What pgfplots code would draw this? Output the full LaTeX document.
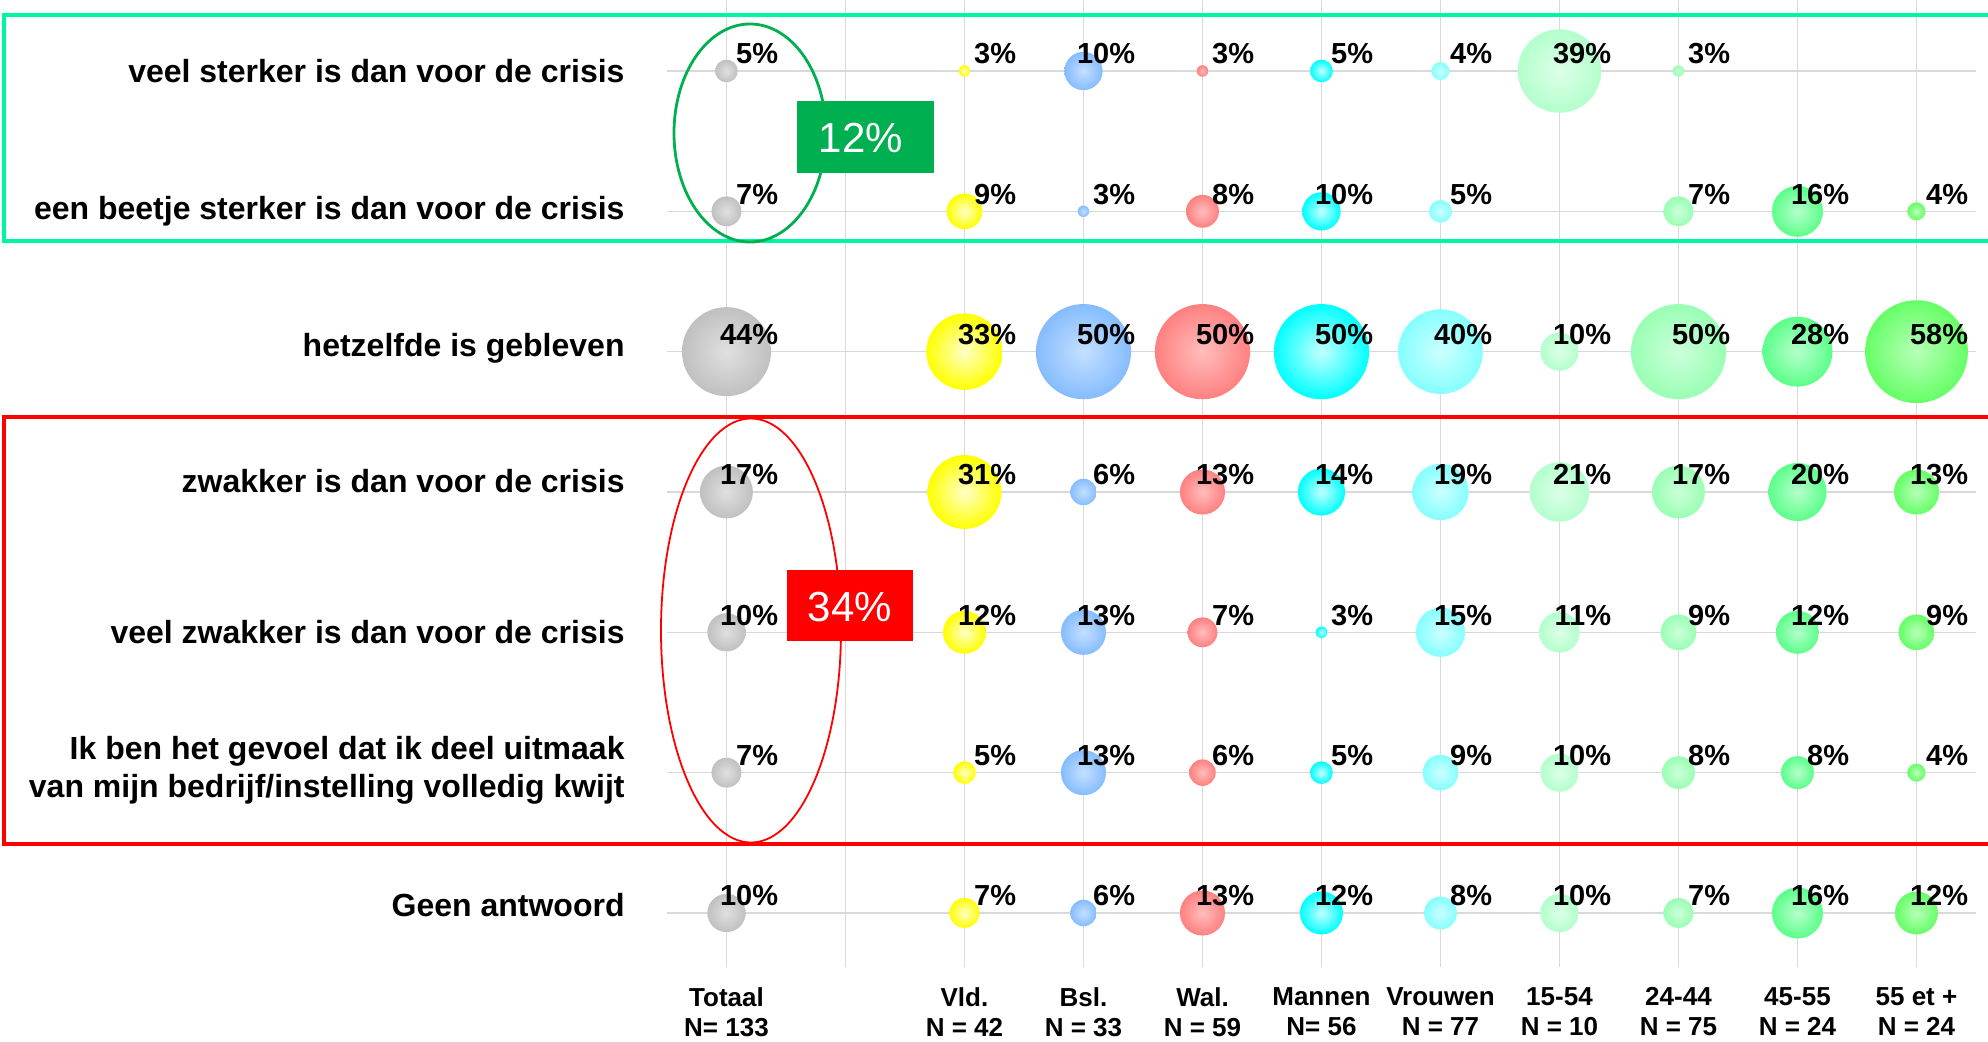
\documentclass[border=0pt]{standalone}
\usepackage{pgfplots}
\pgfplotsset{compat=1.18}
\usepackage{fontspec}
\setmainfont{Liberation Sans}

\definecolor{cGrayO}{HTML}{C0C0C0}\definecolor{cGrayI}{HTML}{E0E0E0}
\definecolor{cYelO}{HTML}{FFFF00}\definecolor{cYelI}{HTML}{FFFFC8}
\definecolor{cBluO}{HTML}{85BCFF}\definecolor{cBluI}{HTML}{C4E0FF}
\definecolor{cSalO}{HTML}{FF8080}\definecolor{cSalI}{HTML}{FFBDBD}
\definecolor{cCyaO}{HTML}{00FFFF}\definecolor{cCyaI}{HTML}{C4FFFF}
\definecolor{cLcyO}{HTML}{85FFFF}\definecolor{cLcyI}{HTML}{CCFFFF}
\definecolor{cG1O}{HTML}{B3FFCC}\definecolor{cG1I}{HTML}{DDFFE8}
\definecolor{cG2O}{HTML}{99FFB3}\definecolor{cG2I}{HTML}{CCFFDA}
\definecolor{cG3O}{HTML}{5CFF8A}\definecolor{cG3I}{HTML}{B5FFCB}
\definecolor{cG4O}{HTML}{66FF66}\definecolor{cG4I}{HTML}{B8FFB8}
\definecolor{cMint}{HTML}{00F5A0}
\definecolor{cDG}{HTML}{00B050}
\definecolor{cGrid}{HTML}{D9D9D9}

\newcommand\mkball[1]{%
  \pgfdeclareradialshading{sh#1}{\pgfpoint{0bp}{0bp}}{color(0bp)=(c#1I); color(25bp)=(c#1O); color(50bp)=(c#1O)}%
  \pgfdeclareplotmark{b#1}{\pgfpathcircle{\pgfpointorigin}{\pgfplotmarksize}\pgfshadepath{sh#1}{0}\pgfusepath{}}}
\mkball{Gray}\mkball{Yel}\mkball{Blu}\mkball{Sal}\mkball{Cya}\mkball{Lcy}
\mkball{G1}\mkball{G2}\mkball{G3}\mkball{G4}

\pgfplotsset{bub/.style={only marks, mark=#1, point meta=explicit,
  nodes near coords={\pgfmathprintnumber[assume math mode=true]{\pgfplotspointmeta}\%},
  every node near coord/.append style={anchor=base east, xshift=26pt, yshift=3.5pt,
     font=\bfseries\fontsize{14.5}{17}\selectfont, inner sep=0pt, text=black},
  scatter,
  visualization depends on={sqrt(190*(\thisrow{v}-2.3))/4 \as \bubsz},
  scatter/@pre marker code/.append style={/tikz/mark size=\bubsz pt}}}

\begin{document}
\begin{tikzpicture}
\useasboundingbox (-333.5pt,-37pt) rectangle (660.5pt,483.5pt);
\clip (-333.5pt,-37pt) rectangle (660.5pt,483.5pt);
\begin{axis}[
  scale only axis, width=654.5pt, height=483.5pt,
  at={(0pt,0pt)}, anchor=south west,
  xmin=-0.5, xmax=10.5, ymin=0.615, ymax=7.506,
  clip=false,
  axis line style={draw=none},
  major tick length=0pt,
  grid=major, grid style={draw=cGrid, line width=0.7pt},
  xtick={0,1,2,3,4,5,6,7,8,9,10},
  xticklabels={{Totaal\\N= 133},{},{Vld.\\N = 42},{Bsl.\\N = 33},{Wal.\\N = 59},{Mannen\\N= 56},{Vrouwen\\N = 77},{15-54\\N = 10},{24-44\\N = 75},{45-55\\N = 24},{55 et +\\N = 24}},
  xticklabel style={font=\bfseries\fontsize{13}{15}\selectfont, align=center, inner sep=0pt, anchor=north, yshift=-10pt},
  ytick={1,2,3,4,5,6,7},
  yticklabels={{\raisebox{7.6pt}{Geen antwoord}},{Ik ben het gevoel dat ik deel uitmaak\\van mijn bedrijf/instelling volledig kwijt\\[-13pt]\mbox{}},veel zwakker is dan voor de crisis,{\raisebox{11.4pt}{zwakker is dan voor de crisis}},{\raisebox{6.3pt}{hetzelfde is gebleven}},een beetje sterker is dan voor de crisis,veel sterker is dan voor de crisis},
  yticklabel style={font=\bfseries\fontsize{16}{19}\selectfont, align=right, inner sep=0pt, anchor=east, xshift=-21pt},
]
% Totaal
\addplot[bub=bGray] table[x=x,y=y,meta=v] {
x y v
0 7 5
0 6 7
0 5 44
0 4 17
0 3 10
0 2 7
0 1 10
};
% Vld.
\addplot[bub=bYel] table[x=x,y=y,meta=v] {
x y v
2 7 3
2 6 9
2 5 33
2 4 31
2 3 12
2 2 5
2 1 7
};
% Bsl.
\addplot[bub=bBlu] table[x=x,y=y,meta=v] {
x y v
3 7 10
3 6 3
3 5 50
3 4 6
3 3 13
3 2 13
3 1 6
};
% Wal.
\addplot[bub=bSal] table[x=x,y=y,meta=v] {
x y v
4 7 3
4 6 8
4 5 50
4 4 13
4 3 7
4 2 6
4 1 13
};
% Mannen
\addplot[bub=bCya] table[x=x,y=y,meta=v] {
x y v
5 7 5
5 6 10
5 5 50
5 4 14
5 3 3
5 2 5
5 1 12
};
% Vrouwen
\addplot[bub=bLcy] table[x=x,y=y,meta=v] {
x y v
6 7 4
6 6 5
6 5 40
6 4 19
6 3 15
6 2 9
6 1 8
};
% 15-54
\addplot[bub=bG1] table[x=x,y=y,meta=v] {
x y v
7 7 39
7 5 10
7 4 21
7 3 11
7 2 10
7 1 10
};
% 24-44
\addplot[bub=bG2] table[x=x,y=y,meta=v] {
x y v
8 7 3
8 6 7
8 5 50
8 4 17
8 3 9
8 2 8
8 1 7
};
% 45-55
\addplot[bub=bG3] table[x=x,y=y,meta=v] {
x y v
9 6 16
9 5 28
9 4 20
9 3 12
9 2 8
9 1 16
};
% 55 et +
\addplot[bub=bG4] table[x=x,y=y,meta=v] {
x y v
10 6 4
10 5 58
10 4 13
10 3 9
10 2 4
10 1 12
};
\end{axis}
\begin{scope}[x=0.5pt,y=-0.5pt,shift={(-333.5pt,483.5pt)}]
\draw[cMint, line width=1.75pt] (4,15) rectangle (2100,241);
\draw[red, line width=1.75pt] (4,417) rectangle (2100,844);
\draw[cDG, line width=1.4pt] (750,133) ellipse [x radius=38pt, y radius=54.5pt];
\fill[cDG] (797,101) rectangle (934,173);
\node[text=white, font=\fontsize{21}{24}\selectfont, inner sep=0pt] at (861,138) {12\%};
\draw[red, line width=0.9pt] (751,630.5) ellipse [x radius=45pt, y radius=106pt];
\fill[red] (787,570) rectangle (913,641);
\node[text=white, font=\fontsize{21}{24}\selectfont, inner sep=0pt] at (850,607) {34\%};
\end{scope}
\end{tikzpicture}
\end{document}
